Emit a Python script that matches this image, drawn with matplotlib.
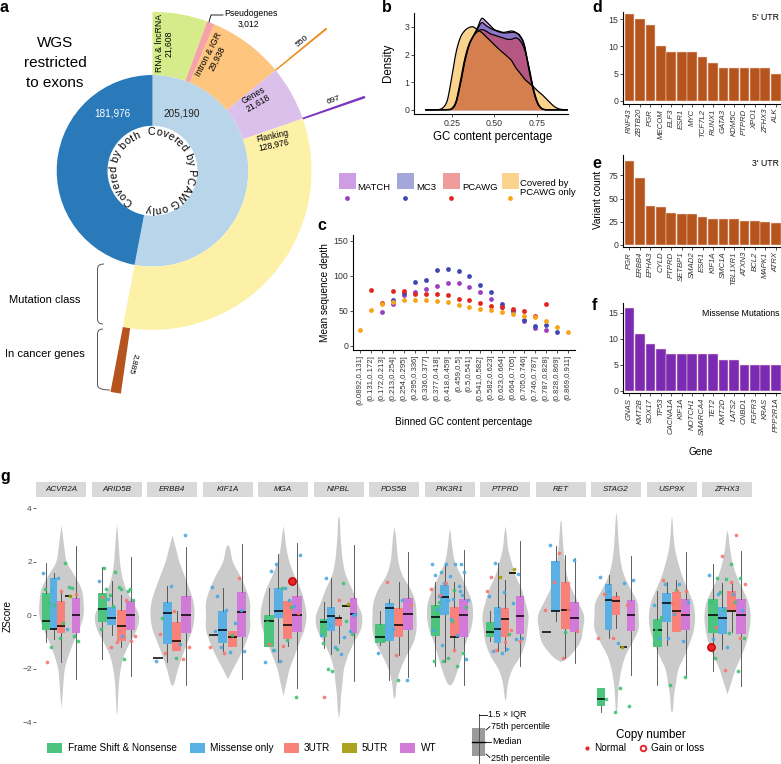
import numpy as np
import matplotlib
matplotlib.use("Agg")
import matplotlib.pyplot as plt
from matplotlib.patches import Rectangle, PathPatch
from matplotlib.path import Path
from matplotlib.textpath import TextPath
from matplotlib.font_manager import FontProperties

plt.rcParams['font.family'] = ['Liberation Sans', 'DejaVu Sans']

# ======================= DATA =======================
# panel a
inner_labels = ['Covered by PCAWG only', 'Covered by both']
inner_values = [205190, 181976]
outer_labels = ['RNA & lncRNA', 'Pseudogenes', 'Intron & IGR', 'Genes', 'Flanking']
outer_values = [21608, 3012, 29938, 21618, 128976]
mutation_class_values = [550, 697]          # after 'Intron & IGR', after 'Genes'
cancer_gene_value = 2885                      # end of 'Flanking'

# panel b (density read at GC positions)
gc_x = [0.100, 0.125, 0.150, 0.175, 0.200, 0.225, 0.250, 0.275, 0.300, 0.325, 0.350, 0.375,
        0.400, 0.425, 0.450, 0.475, 0.500, 0.525, 0.550, 0.575, 0.600, 0.625, 0.650, 0.675,
        0.700, 0.725, 0.750, 0.775, 0.800, 0.825, 0.850, 0.875, 0.900, 0.925]
match_density = [0, 0, 0, 0, 0, 0.01, 0.03, 0.25, 0.9, 1.7, 2.3, 2.65, 2.95, 3.3, 3.2, 3.05, 2.9,
                 2.85, 2.8, 2.82, 2.85, 2.8, 2.68, 2.35, 1.55, 0.8, 0.28, 0.06, 0, 0, 0, 0, 0, 0]
mc3_density = [0, 0, 0, 0, 0, 0.01, 0.03, 0.25, 0.9, 1.7, 2.3, 2.65, 2.9, 3.15, 3.05, 2.95, 2.88,
               2.82, 2.78, 2.78, 2.8, 2.78, 2.65, 2.3, 1.5, 0.75, 0.25, 0.05, 0, 0, 0, 0, 0, 0]
pcawg_density = [0, 0, 0, 0, 0, 0.01, 0.05, 0.3, 1.0, 1.8, 2.35, 2.65, 2.82, 2.9, 2.85, 2.75, 2.7,
                 2.65, 2.6, 2.55, 2.55, 2.6, 2.5, 2.2, 1.6, 0.85, 0.3, 0.05, 0.01, 0, 0, 0, 0, 0]
covered_density = [0, 0, 0, 0.01, 0.08, 0.35, 1.15, 2.05, 2.6, 2.85, 2.97, 3.0, 2.9, 2.8, 2.65,
                   2.5, 2.35, 2.2, 2.07, 1.93, 1.78, 1.52, 1.33, 1.12, 0.98, 0.85, 0.7, 0.57,
                   0.42, 0.26, 0.12, 0.04, 0.01, 0]
series_names = ['MATCH', 'MC3', 'PCAWG', 'Covered by\nPCAWG only']

# panel c
gc_bins = ['(0.0892,0.131]', '(0.131,0.172]', '(0.172,0.213]', '(0.213,0.254]', '(0.254,0.295]',
           '(0.295,0.336]', '(0.336,0.377]', '(0.377,0.418]', '(0.418,0.459]', '(0.459,0.5]',
           '(0.5,0.541]', '(0.541,0.582]', '(0.582,0.623]', '(0.623,0.664]', '(0.664,0.705]',
           '(0.705,0.746]', '(0.746,0.787]', '(0.787,0.828]', '(0.828,0.869]', '(0.869,0.911]']
nan = np.nan
match_depth = [nan, nan, 48, 60, 73, 76, 81, 85, 89, 89, 84, 77, 67, 56, 51, 35, 26, 22, nan, nan]
mc3_depth = [nan, nan, nan, 65, 75, 91, 94, 108, 109, 107, 100, 86, 76, 59, 49, 37, 28, 29, 19, nan]
pcawg_depth = [nan, 79, 61, 78, 78, 74, 74, 74, 72, 67, 66, 61, 57, 56, 52, 50, 43, 59, nan, nan]
covered_depth = [23, 51, 59, 63, 65, 66, 65, 64, 62, 58, 55, 53, 51, 48, 45, 43, 41, 36, 27, 20]

# panels d, e, f
utr5_genes = ['RNF43', 'ZBTB20', 'PGR', 'MECOM', 'ELF3', 'ESR1', 'MYC', 'TCF7L2', 'RUNX1', 'GATA3',
              'KDM5C', 'PTPRD', 'XPO1', 'ZFHX3', 'ALK']
utr5_counts = [16, 15, 14, 10, 9, 9, 9, 8, 7, 6, 6, 6, 6, 6, 5]
utr3_genes = ['PGR', 'ERBB4', 'EPHA3', 'CYLD', 'PTPRD', 'SETBP1', 'SMAD2', 'ESR1', 'KIF1A', 'SMC1A',
              'TBL1XR1', 'ATXN3', 'BCL2', 'MAPK1', 'ATRX']
utr3_counts = [91, 72, 42, 41, 34, 33, 33, 30, 28, 28, 28, 26, 26, 25, 24]
mis_genes = ['GNAS', 'KMT2B', 'SOX17', 'TP53', 'CACNA1A', 'KIF1A', 'NOTCH1', 'SMARCA4', 'TET2',
             'KMT2D', 'LATS2', 'CNBD1', 'FGFR3', 'KRAS', 'PPP2R1A']
mis_counts = [16, 11, 9, 8, 7, 7, 7, 7, 7, 6, 6, 5, 5, 5, 5]

# panel g
g_genes = ['ACVR2A', 'ARID5B', 'ERBB4', 'KIF1A', 'MGA', 'NIPBL', 'PDS5B', 'PIK3R1', 'PTPRD', 'RET',
           'STAG2', 'USP9X', 'ZFHX3']
g_cats = ['Frame Shift & Nonsense', 'Missense only', '3UTR', '5UTR', 'WT']
FS, MS, U3, U5, WT = g_cats
# (whisker low, q1, median, q3, whisker high)
g_boxes = {
    'ACVR2A': {FS: (-1.0, -0.55, -0.21, 0.84, 1.96), MS: (-0.9, -0.55, -0.53, 1.40, 1.57),
               U3: (-1.73, -0.67, -0.42, 0.53, 0.88), U5: (0.72, 0.72, 0.72, 0.72, 0.72),
               WT: (-2.39, -0.65, -0.01, 0.66, 2.58)},
    'ARID5B': {FS: (-1.64, -0.25, 0.24, 0.84, 1.81), MS: (-0.73, -0.36, -0.09, 0.32, 1.28),
               U3: (-1.17, -0.96, -0.40, 0.20, 0.76), WT: (-2.25, -0.57, 0.0, 0.53, 2.16)},
    'ERBB4': {FS: (-1.58, -1.58, -1.58, -1.58, -1.58), MS: (-1.73, -1.08, 0.07, 0.51, 1.10),
              U3: (-1.35, -1.35, -0.96, -0.27, 0.14), WT: (-2.62, -0.65, 0.01, 0.72, 2.56)},
    'KIF1A': {FS: (-0.75, -0.75, -0.75, -0.75, -0.75), MS: (-1.35, -1.04, -0.57, 0.17, 1.03),
              U3: (-1.17, -1.17, -0.80, -0.58, -0.58), WT: (-2.37, -0.83, 0.12, 0.86, 2.65)},
    'MGA': {FS: (-1.2, -1.2, -0.22, 0.0, 1.0), MS: (-1.73, -0.11, 0.15, 1.03, 2.27),
            U3: (-1.14, -0.90, -0.37, 0.53, 0.56), WT: (-2.70, -0.63, 0.0, 0.73, 2.68)},
    'NIPBL': {FS: (-1.23, -0.80, -0.25, -0.14, 0.48), MS: (-1.45, -0.58, -0.02, 0.32, 1.38),
              U3: (-1.04, -0.42, -0.11, -0.05, 0.0), U5: (0.30, 0.31, 0.34, 0.37, 0.38),
              WT: (-2.45, -0.65, 0.04, 0.66, 2.62)},
    'PDS5B': {FS: (-1.1, -1.04, -0.82, -0.33, 0.14), MS: (-2.41, -0.98, 0.28, 0.47, 0.62),
              U3: (-1.48, -0.80, -0.36, 0.26, 1.23), WT: (-2.32, -0.57, 0.06, 0.66, 2.35)},
    'PIK3R1': {FS: (-1.91, -0.76, -0.07, 0.39, 1.25), MS: (-1.73, 0.01, 0.67, 1.13, 1.90),
               U3: (-1.32, -0.82, -0.80, 0.30, 1.25), WT: (-2.60, -0.82, 0.01, 0.61, 2.43)},
    'PTPRD': {FS: (-0.98, -0.80, -0.61, -0.25, 0.14), MS: (-1.35, -1.02, -0.51, 0.30, 1.94),
              U3: (-1.35, -0.80, -0.15, 0.26, 1.30), U5: (1.52, 1.53, 1.57, 1.62, 1.63),
              WT: (-1.91, -0.70, -0.02, 0.72, 2.78)},
    'RET': {FS: (-0.62, -0.62, -0.62, -0.62, -0.62), MS: (-0.20, 0.14, 0.14, 2.04, 2.60),
            U3: (-1.58, -0.52, 0.20, 1.25, 2.25), WT: (-1.79, -0.61, -0.11, 0.48, 2.15)},
    'STAG2': {FS: (-3.61, -3.38, -3.12, -2.70, -2.70), MS: (-0.86, -0.55, 0.56, 1.17, 1.50),
              U3: (-0.46, 0.01, 0.53, 0.72, 0.88), U5: (-1.17, -1.17, -1.17, -1.17, -1.17),
              WT: (-2.22, -0.58, 0.01, 0.57, 2.22)},
    'USP9X': {FS: (-2.60, -1.17, -0.55, -0.15, 0.92), MS: (-1.10, -0.27, 0.47, 0.84, 1.23),
              U3: (-0.61, -0.61, 0.16, 0.88, 1.32), WT: (-2.31, -0.57, 0.02, 0.61, 2.35)},
    'ZFHX3': {FS: (-2.07, -0.65, 0.01, 0.61, 1.90), MS: (-1.27, -0.71, -0.11, 0.32, 1.20),
              U3: (-0.61, 0.12, 0.17, 0.91, 1.19), WT: (-2.63, -0.70, 0.01, 0.61, 2.40)},
}
g_points = {
    'ACVR2A': {FS: [1.96, -1.2, -0.78, -0.86, 0.98, 1.07, 0.38, -0.96, -0.3, 0.45, 1.02],
               MS: [1.4, 1.59, -0.5, 0.95], U3: [0.8, 0.92, -1.73], U5: [0.72]},
    'ARID5B': {FS: [0.98, 0.98, 0.98, 1.63, -0.5, -1.64, 0.75, 0.55, 1.04, 1.78, 0.92, 0.35],
               MS: [1.26, -0.78, 0.6], U3: [-0.95, -1.0, 0.67, 0.55, -1.2, -0.78]},
    'ERBB4': {FS: [-1.58, -0.12], MS: [2.98, 1.1, -1.72, -1.08], U3: [-1.4, -1.2, 0.15, -0.7, -1.63]},
    'KIF1A': {FS: [-0.75], MS: [0.73, 0.2, 0.21, 1.05, -0.28, -1.2, -1.35, -1.37, -0.6],
              U3: [1.4, -1.4, -1.18]},
    'MGA': {FS: [-0.93, -1.3, -3.04, 1.0, -0.25, 0.3],
            MS: [1.9, 2.25, 1.03, 1.65, 0.35, -1.7, -1.73, 0.55, -1.28], U3: [0.1, -1.15, -1.07]},
    'NIPBL': {FS: [1.2, -2.0, -0.7, -1.25, -1.05, -0.2, -2.1],
              MS: [0.05, -1.43, 1.38, -0.6, -1.2, -0.75, -0.8, -0.35, 0.0], U3: [0.55, -3.07], U5: [0.42]},
    'PDS5B': {FS: [-2.43, -0.92], MS: [-2.41, -0.52, -1.42, 0.55], U3: [1.23, 0.38, -1.48]},
    'PIK3R1': {FS: [0.95, 0.5, -1.4, -1.6, -1.72, -1.9, -1.7, 0.3, -0.2, 0.1],
               MS: [1.9, 1.92, 1.9, 1.9, 1.6, 1.6, 1.45, 1.5, 1.1, 1.2, 0.55, 0.6, 0.7, 0.75, 0.55,
                    -0.55, -0.72, -1.1, -1.65, -0.15, 0.25, 0.9],
               U3: [1.2, 0.98, -1.3, 0.75]},
    'PTPRD': {FS: [-0.7], MS: [1.94, 1.55, 0.85, 0.7, 0.45, 0.17, -0.85, -1.25, -1.35, -0.9, -1.4],
              U3: [0.9, -0.55, -1.3, -0.95, -1.0, 1.43], U5: [1.74, 1.43]},
    'RET': {FS: [-0.62], MS: [2.63, 2.05], U3: [2.33, 0.2, 0.23, 1.25, -0.6, -1.6]},
    'STAG2': {FS: [-2.7, -3.12, -3.37, -3.61], MS: [1.43, 1.2, 0.9, 1.3, -1.04],
              U3: [0.8, 0.4, -0.85, -0.85], U5: [-1.17]},
    'USP9X': {FS: [0.95, -0.05, -2.3, -2.6, -0.55], MS: [1.16, 1.15, 0.5, 0.05, -0.85, -0.95, -0.85, 0.4],
              U3: [0.9, 1.33, 0.9, 0.45]},
    'ZFHX3': {FS: [1.9, 1.4, 1.4, 1.35, 0.5, 0.5, 0.85, -0.85, -0.65, -1.6, -2.1, 0.2],
              MS: [1.5, 0.8, 0.8, 0.2, -1.2, -0.9], U3: [3.0, 2.2, 1.15, 1.25, -0.45, -0.85, -2.03]},
}
g_gain_loss = [('MGA', 1.29), ('ZFHX3', -1.17)]
violin_levels = [-3.5, -3, -2.5, -2, -1.5, -1, -0.5, 0, 0.5, 1, 1.5, 2, 2.5, 3, 3.5]
# (lowest, highest, half-width in px at violin_levels)
g_violins = {
    'ACVR2A': (-3.47, 3.37, [0, 1, 2, 3.3, 7, 12, 18, 22, 22, 20, 13, 5.3, 3, 1.3, 0]),
    'ARID5B': (-3.71, 3.43, [0.6, 1.2, 2, 3.7, 7, 13, 20, 22, 16, 9, 5, 3, 2, 1, 0]),
    'ERBB4': (-2.62, 3.0, [0, 0, 2, 5.5, 10, 15, 20, 22, 21, 17, 12, 7, 3.5, 0.8, 0]),
    'KIF1A': (-2.37, 2.65, [0, 0, 0, 5, 12, 18, 22, 22, 22, 18, 12, 5, 2, 0, 0]),
    'MGA': (-3.0, 3.34, [0, 0.8, 3, 6, 11, 16, 21, 23, 21, 17, 11, 6, 3, 1.3, 0]),
    'NIPBL': (-3.86, 3.74, [1.2, 2, 3.5, 5, 9, 15, 22, 23, 18, 13, 7, 4, 2.5, 1.5, 1]),
    'PDS5B': (-3.1, 3.3, [0, 1, 2.5, 6, 12, 19, 22, 22, 21, 16, 8, 4, 2.5, 1.3, 0]),
    'PIK3R1': (-2.6, 3.24, [0, 0, 3, 8, 12, 16, 21, 23, 22, 17, 11, 5, 2.5, 1, 0]),
    'PTPRD': (-3.2, 3.34, [0, 1, 2.7, 7, 15, 20, 22, 23, 20, 16, 10, 6, 2.7, 1.3, 0]),
    'RET': (-1.73, 3.53, [0, 0, 0, 0, 9, 19, 22, 23, 17, 10.5, 6, 4, 2.5, 1.5, 0.5]),
    'STAG2': (-3.6, 3.86, [0.8, 1.5, 2.7, 5, 9, 16, 22, 22, 21, 14, 7.7, 4.3, 2.7, 1.7, 1]),
    'USP9X': (-3.6, 3.71, [1, 2, 4, 6.5, 12.5, 18, 22, 23, 21, 15.5, 10, 6, 3, 1.5, 0.7]),
    'ZFHX3': (-2.94, 3.18, [0, 0, 3.7, 8, 14, 19, 22, 23, 21, 15, 9, 5, 2.5, 1, 0]),
}

# ======================= STYLE =======================
W, H = 781, 764
fig = plt.figure(figsize=(W / 100, H / 100), dpi=100)


def pax(x0, y0, x1, y1):
    a = fig.add_axes([x0 / W, 1 - y1 / H, (x1 - x0) / W, (y1 - y0) / H])
    a.set_facecolor('none')
    return a


def T(y):
    return H - y


def ftext(x, y, s, **kw):
    fig.text(x / W, 1 - y / H, s, **kw)


def smooth_curve(xs, ys, n=10):
    P = np.column_stack([np.asarray(xs, float), np.asarray(ys, float)])
    P = np.vstack([P[0], P, P[-1]])
    t = np.linspace(0, 1, n, endpoint=False)[:, None]
    out = []
    for i in range(1, len(P) - 2):
        p0, p1, p2, p3 = P[i - 1], P[i], P[i + 1], P[i + 2]
        out.append(0.5 * (2 * p1 + (-p0 + p2) * t + (2 * p0 - 5 * p1 + 4 * p2 - p3) * t ** 2
                          + (-p0 + 3 * p1 - 3 * p2 + p3) * t ** 3))
    out.append(P[-2][None])
    out = np.vstack(out)
    return out[:, 0], out[:, 1]


def classic(ax, fs=6):
    for s in ['top', 'right']:
        ax.spines[s].set_visible(False)
    for s in ['left', 'bottom']:
        ax.spines[s].set_linewidth(0.8)
    ax.tick_params(length=2, width=0.6, labelsize=fs, colors='#333333', pad=1.5)
    ax.tick_params(axis='both', which='both', color='#333333')


# ======================= PANEL A =======================
ov = pax(0, 0, W, H)
CX, CY = 152.5, T(170.8)
R_HOLE, R_IN, R_OUT, R_MUT = 45, 95.8, 159, 225
inner_colors = ['#b9d5ea', '#2a7ab9']
outer_colors = ['#d6ec8a', '#f6a3a8', '#fdc57e', '#dcc0ec', '#fdf1a8']
total = sum(inner_values)
ov.pie(inner_values, radius=R_IN, center=(CX, CY), startangle=90, counterclock=False,
       colors=inner_colors, wedgeprops=dict(width=R_IN - R_HOLE, linewidth=0), frame=True)
rest = total - sum(outer_values)
ov.pie(outer_values + [rest], radius=R_OUT, center=(CX, CY), startangle=90, counterclock=False,
       colors=outer_colors + ['none'], wedgeprops=dict(width=R_OUT - R_IN, linewidth=0), frame=True)
cum = np.cumsum(outer_values)
for boundary, val, col in [(cum[2], mutation_class_values[0], '#f28a1a'),
                           (cum[3], mutation_class_values[1], '#7b35c0')]:
    ov.pie([boundary - val / 2, val, total - boundary - val / 2], radius=R_MUT, center=(CX, CY),
           startangle=90, counterclock=False, colors=['none', col, 'none'],
           wedgeprops=dict(width=R_MUT - R_OUT, linewidth=0.4, edgecolor='none'), frame=True)
ov.pie([cum[4] - cancer_gene_value, cancer_gene_value, total - cum[4]], radius=R_MUT, center=(CX, CY),
       startangle=90, counterclock=False, colors=['none', '#b5541c', 'none'],
       wedgeprops=dict(width=R_MUT - R_OUT, linewidth=0), frame=True)


def arc_text(ax, s, cx, cy, r, mid_deg, fs):
    fp = FontProperties(family='Liberation Sans', size=fs)
    base = TextPath((0, 0), 'xx', prop=fp).get_extents().width
    widths = [(TextPath((0, 0), 'x' + c + 'x', prop=fp).get_extents().width - base) * 100 / 72
              for c in s]
    L = sum(widths)
    start = np.deg2rad(mid_deg) + L / (2 * r)
    acc = 0
    for c, w in zip(s, widths):
        th = start - (acc + w / 2) / r
        acc += w
        ax.text(cx + r * np.cos(th), cy + r * np.sin(th), c, rotation=np.rad2deg(th) - 90,
                ha='center', va='baseline', rotation_mode='anchor', fontsize=fs)


arc_text(ov, inner_labels[1], CX, CY, 35.5, 174, 7.8)
arc_text(ov, inner_labels[0], CX, CY, 35.5, -1, 7.8)

ov.text(112.5, T(113), f'{inner_values[1]:,}', color='white', fontsize=7.2, ha='center', va='center')
ov.text(182, T(113), f'{inner_values[0]:,}', color='#222222', fontsize=7.2, ha='center', va='center')
for yy, s in [(43, 'WGS'), (63, 'restricted'), (83, 'to exons')]:
    ov.text(55, T(yy), s, fontsize=11, ha='center', va='center')

seg_pos = {'RNA & lncRNA': (164.5, 43.5, 90), 'Intron & IGR': (213, 57, 63),
           'Genes': (256, 99, 30), 'Flanking': (273, 141, 12)}
for lab, val in zip(outer_labels, outer_values):
    if lab in seg_pos:
        x, y, rot = seg_pos[lab]
        ov.text(x, T(y), f'{lab}\n{val:,}', fontsize=6.2, ha='center', va='center', rotation=rot,
                rotation_mode='anchor', multialignment='center', linespacing=1.05)
ov.plot([209, 211, 223], [T(22), T(15), T(15)], color='black', lw=0.6)
ov.text(224, T(14), outer_labels[1], fontsize=6.2, ha='left', va='center')
ov.text(248, T(24.5), f'{outer_values[1]:,}', fontsize=6.2, ha='center', va='center')
ov.text(302, T(41), f'{mutation_class_values[0]}', fontsize=6, rotation=39, ha='center', va='center')
ov.text(334, T(100), f'{mutation_class_values[1]}', fontsize=6, rotation=20, ha='center', va='center')
ov.text(133, T(364), f'{cancer_gene_value:,}', fontsize=6, rotation=-104, ha='center', va='center')


def bracket(ax, xs, yt, yb, xe1, xe2):
    verts = [(xe1, T(yt)), (xs, T(yt)), (xs, T(yt + 5)), (xs, T(yb - 5)), (xs, T(yb)), (xe2, T(yb))]
    codes = [Path.MOVETO, Path.CURVE3, Path.CURVE3, Path.LINETO, Path.CURVE3, Path.CURVE3]
    ax.add_patch(PathPatch(Path(verts, codes), fill=False, edgecolor='#555555', lw=0.7))


bracket(ov, 97.5, 264, 324, 104, 103)
bracket(ov, 97.5, 329, 390, 103, 110)
ov.text(44.5, T(300), 'Mutation class', fontsize=8, ha='center', va='center')
ov.text(44.5, T(354), 'In cancer genes', fontsize=8, ha='center', va='center')

# legend for b/c
fill_cols = ['#9c3fc9', '#4a50b5', '#e03a3a', '#f7a81b']
pt_cols = ['#9a3fc0', '#3e48b4', '#e3241f', '#f7a416']
for (x0, lx), name, fc, pc in zip([(339, 357), (397, 416), (443, 462), (502, 520)], series_names,
                                  fill_cols, pt_cols):
    ov.add_patch(Rectangle((x0, T(189)), 16.5, 16.5, color=fc, alpha=0.5, lw=0))
    ov.scatter([x0 + 8.2], [T(197.5)], s=12, color=pc, lw=0)
    ov.text(lx, T(188), name, fontsize=6.8, ha='left', va='center', linespacing=1.0)

# ======================= PANEL B =======================
axb = pax(414, 13, 568, 114)
for vals, col in zip([match_density, mc3_density, pcawg_density, covered_density], fill_cols):
    xs, ys = smooth_curve(gc_x, vals, n=6)
    ys = np.clip(ys, 0, None)
    axb.fill_between(xs, ys, color=col, alpha=0.5, lw=0)
    axb.plot(xs, ys, color='black', lw=0.9)
axb.set_xlim(0.03, 0.93)
axb.set_ylim(-0.15, 3.5)
axb.set_xticks([0.25, 0.5, 0.75])
axb.set_xticklabels(['0.25', '0.50', '0.75'])
axb.set_yticks([0, 1, 2, 3])
classic(axb, 6.3)
ftext(388, 63, 'Density', fontsize=8.3, rotation=90, ha='center', va='center')
ftext(493, 137, 'GC content percentage', fontsize=8.3, ha='center', va='center')

# ======================= PANEL C =======================
axc = pax(353, 235, 575, 350)
xc = np.arange(len(gc_bins))
for vals, col in zip([match_depth, mc3_depth, pcawg_depth, covered_depth], pt_cols):
    axc.scatter(xc, vals, s=12, color=col, lw=0, zorder=3)
axc.set_xlim(-0.6, 19.6)
axc.set_ylim(-6, 158)
axc.set_xticks(xc)
axc.set_xticklabels(gc_bins, rotation=90, fontsize=5.6)
axc.set_yticks([0, 50, 100, 150])
classic(axc, 6.3)
axc.tick_params(axis='x', labelsize=5.6)
ftext(325, 293, 'Mean sequence depth', fontsize=7.2, rotation=90, ha='center', va='center')
ftext(464, 422, 'Binned GC content percentage', fontsize=7.2, ha='center', va='center')

# ======================= PANELS D, E, F =======================
bar_specs = [
    ((623, 12, 781, 104), utr5_genes, utr5_counts, '#b5541c', (-0.55, 16.3), [0, 5, 10, 15], "5' UTR", 18),
    ((623, 155, 781, 247), utr3_genes, utr3_counts, '#b5541c', (-2.2, 97), [0, 25, 50, 75], "3' UTR", 163),
    ((623, 303, 781, 393), mis_genes, mis_counts, '#7b2ab3', (-0.45, 16.9), [0, 5, 10, 15],
     'Missense Mutations', 314),
]
for box, genes, counts, col, ylim, yt, lab, ly in bar_specs:
    ax = pax(*box)
    xi = np.arange(len(genes))
    ax.bar(xi, counts, width=0.93, color=col, edgecolor='#f3d9c9', linewidth=0.35)
    ax.set_xlim(-0.62, 14.5)
    ax.set_ylim(*ylim)
    ax.set_yticks(yt)
    ax.set_xticks(xi)
    ax.set_xticklabels(genes, rotation=90, fontstyle='italic', fontsize=5.6)
    classic(ax, 6.3)
    ax.tick_params(axis='x', labelsize=5.6)
    ftext(779, ly, lab, fontsize=6.3, ha='right', va='center')
ftext(598, 200, 'Variant count', fontsize=7.2, rotation=90, ha='center', va='center')
ftext(701, 452, 'Gene', fontsize=7.2, ha='center', va='center')

# ======================= PANEL G =======================
box_cols = {FS: '#4dc47d', MS: '#5ab0e2', U3: '#f8817a', U5: '#aca41f', WT: '#d27ad8'}
pt_g_cols = {FS: '#3cc273', MS: '#4aa9e4', U3: '#f8766d', U5: '#a3a000', WT: '#e76bf3'}
SLOT_TOTAL = 37.5
for k, gene in enumerate(g_genes):
    x0 = 36 + 55.5 * k
    ax = pax(x0, 500, x0 + 50, 735)
    ax.set_xlim(-25, 25)
    ax.set_ylim(-4.47, 4.30)
    ymin, ymax, wl = g_violins[gene]
    yv = [ymin] + [lv for lv in violin_levels if ymin < lv < ymax] + [ymax]
    wv = [0] + [w for lv, w in zip(violin_levels, wl) if ymin < lv < ymax] + [0]
    yy, ww = smooth_curve(yv, wv, n=10)
    ww = np.clip(ww, 0, None)
    ax.fill_betweenx(yy, -ww, ww, color='#cbcbcb', lw=0, zorder=1)

    present = [c for c in g_cats if c in g_boxes[gene]]
    n = len(present)
    sw = SLOT_TOTAL / n
    pos = [-SLOT_TOTAL / 2 + sw * (i + 0.5) for i in range(n)]
    stats = []
    for c in present:
        lo, q1, med, q3, hi = g_boxes[gene][c]
        stats.append(dict(whislo=lo, q1=q1, med=med, q3=q3, whishi=hi, fliers=[]))
    bp = ax.bxp(stats, positions=pos, widths=sw * 0.98, patch_artist=True, showcaps=False,
                showfliers=False, manage_ticks=False, boxprops=dict(linewidth=0),
                medianprops=dict(color='black', linewidth=1.1, solid_capstyle='butt'),
                whiskerprops=dict(color='#444444', linewidth=0.6), zorder=2)
    for patch, c in zip(bp['boxes'], present):
        patch.set_facecolor(box_cols[c])

    idx = 0
    for c in g_cats:
        ys_pts = g_points[gene].get(c, [])
        offs = []
        for _ in ys_pts:
            idx += 1
            offs.append(((idx * 0.6180339887) % 1 - 0.5) * 38)
        if ys_pts:
            ax.scatter(offs, ys_pts, s=7, color=pt_g_cols[c], lw=0, alpha=0.9, zorder=4)
    for gname, gy in g_gain_loss:
        if gname == gene:
            idx += 1
            ax.scatter([((idx * 0.6180339887) % 1 - 0.5) * 38], [gy], s=28, facecolor='#e8262b',
                       edgecolor='#c40000', lw=1.0, zorder=5)

    for s in ax.spines.values():
        s.set_visible(False)
    ax.set_xticks([])
    if k == 0:
        ax.set_yticks([-4, -2, 0, 2, 4])
        ax.tick_params(axis='y', length=2, width=0.6, labelsize=6, colors='#4d4d4d', pad=1)
    else:
        ax.set_yticks([])
    ov.add_patch(Rectangle((x0, T(497)), 50, 15, color='#d9d9d9', lw=0))
    ov.text(x0 + 25, T(489.5), gene, fontsize=5.8, fontstyle='italic', ha='center', va='center',
            color='#1a1a1a')
ftext(8, 616, 'ZScore', fontsize=7.2, rotation=90, ha='center', va='center')

# legend g
for c, (sx, tx) in zip(g_cats, [(47, 68), (190, 210), (284, 304), (342, 362), (400, 421)]):
    ov.add_patch(Rectangle((sx, T(753)), 15, 10, color=box_cols[c], lw=0))
    ov.text(tx, T(748), c, fontsize=7.2, ha='left', va='center')
# box explanation
ov.plot([478.5, 478.5], [T(714), T(763)], color='#555555', lw=0.7)
ov.add_patch(Rectangle((472, T(756)), 13, 28, color='#9a9a9a', lw=0))
ov.plot([472, 485], [T(742), T(742)], color='black', lw=1.0)
ov.plot([479, 486.5], [T(714.5), T(714.5)], color='black', lw=0.6)
ov.plot([486, 490], [T(730), T(726.5)], color='black', lw=0.6)
ov.plot([485, 491], [T(742), T(742)], color='black', lw=0.6)
ov.plot([486, 490], [T(754), T(757.5)], color='black', lw=0.6)
ov.text(488, T(714.5), '1.5 × IQR', fontsize=6.4, ha='left', va='center')
ov.text(491, T(726.5), '75th percentile', fontsize=6.4, ha='left', va='center')
ov.text(492, T(742), 'Median', fontsize=6.4, ha='left', va='center')
ov.text(491, T(758.5), '25th percentile', fontsize=6.4, ha='left', va='center')
# copy number
ov.text(651, T(735), 'Copy number', fontsize=8.4, ha='center', va='center')
ov.scatter([587], [T(748)], s=9, color='#e8262b', lw=0)
ov.text(594, T(748), 'Normal', fontsize=7.2, ha='left', va='center')
ov.scatter([643], [T(748)], s=16, facecolor='white', edgecolor='#e8262b', lw=1.4)
ov.text(651, T(748), 'Gain or loss', fontsize=7.2, ha='left', va='center')

# panel letters
for s, x, y in [('a', 4, 8), ('b', 387, 7), ('c', 322, 226), ('d', 597, 7), ('e', 597, 163),
                ('f', 594, 305), ('g', 5, 477)]:
    ftext(x, y, s, fontsize=11.5, fontweight='bold', ha='center', va='center')

ov.set_xlim(0, W)
ov.set_ylim(0, H)
ov.set_aspect('auto')
ov.axis('off')

fig.savefig('out.png', dpi=100)
